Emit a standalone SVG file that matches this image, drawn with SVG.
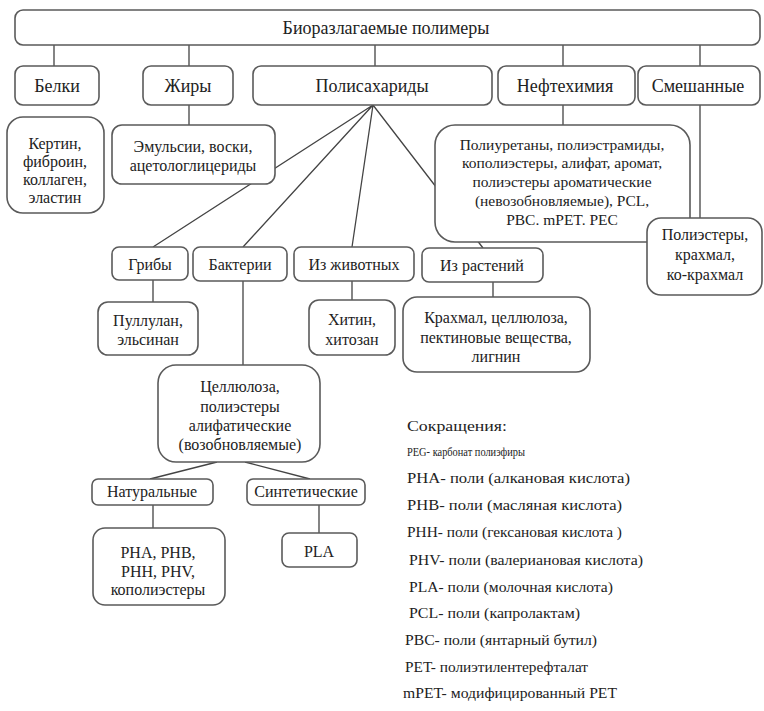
<svg xmlns="http://www.w3.org/2000/svg" width="764" height="711" viewBox="0 0 764 711" font-family="Liberation Serif, Times New Roman, serif">
<style>
.b{fill:#fff;stroke:#5a5a5a;stroke-width:1.6}
.t{fill:#222;text-anchor:middle;font-size:16px}
.h{font-size:18px}
.s{font-size:15.5px}
.c{stroke:#444;stroke-width:1.3;fill:none}
.l{fill:#222;font-size:14px}
</style>
<rect width="764" height="711" fill="#fff"/>
<g id="connectors">
<path class="c" d="M54 45V66M189 45V66M375 45V66M563 45V66M700 45V66"/>
<path class="c" d="M189 105V125M563 105V125M700 105V218"/>
<path class="c" d="M373 105L153 247M373 105L243 247M373 105L352 247M373 105L483 248"/>
<path class="c" d="M153 280V302M352 281V300M493 282V297M243 281V365"/>
<path class="c" d="M217 462L150 479M245 462L310 479M153 505V528M319 505V533"/>
</g>
<g id="root"><rect class="b" x="15" y="10" width="745" height="35" rx="8"/><text class="t h" x="386" y="34">Биоразлагаемые полимеры</text></g>
<g id="belki"><rect class="b" x="15" y="66" width="84" height="39" rx="8"/><text class="t h" x="57" y="92">Белки</text></g>
<g id="zhiry"><rect class="b" x="143" y="66" width="90" height="39" rx="8"/><text class="t h" x="188" y="92">Жиры</text></g>
<g id="polisah"><rect class="b" x="253" y="66" width="239" height="39" rx="8"/><text class="t h" x="372" y="92">Полисахариды</text></g>
<g id="neft"><rect class="b" x="498" y="66" width="137" height="39" rx="8"/><text class="t h" x="565" y="92">Нефтехимия</text></g>
<g id="smesh"><rect class="b" x="638" y="66" width="122" height="39" rx="8"/><text class="t h" x="698" y="92">Смешанные</text></g>
<g id="kertin"><rect class="b" x="7" y="117" width="97" height="96" rx="16"/><text class="t" x="55" y="149">Кертин,</text><text class="t" x="55" y="167">фиброин,</text><text class="t" x="55" y="185">коллаген,</text><text class="t" x="55" y="203">эластин</text></g>
<g id="emuls"><rect class="b" x="112" y="125" width="163" height="59" rx="10"/><text class="t" x="193" y="152">Эмульсии, воски,</text><text class="t" x="193" y="171">ацетологлицериды</text></g>
<g id="poliur"><rect class="b" x="435" y="125" width="255" height="117" rx="20"/>
<text class="t s" x="562" y="150">Полиуретаны, полиэстрамиды,</text>
<text class="t s" x="562" y="168">кополиэстеры, алифат, аромат,</text>
<text class="t s" x="562" y="187">полиэстеры ароматические</text>
<text class="t s" x="562" y="206">(невозобновляемые), PCL,</text>
<text class="t s" x="562" y="225">PBC. mPET. PEC</text></g>
<g id="poliest"><rect class="b" x="647" y="218" width="115" height="77" rx="14"/><text class="t" x="705" y="240">Полиэстеры,</text><text class="t" x="705" y="260">крахмал,</text><text class="t" x="705" y="280">ко-крахмал</text></g>
<g id="griby"><rect class="b" x="112" y="247" width="76" height="33" rx="7"/><text class="t" x="150" y="270">Грибы</text></g>
<g id="bakt"><rect class="b" x="193" y="247" width="94" height="34" rx="7"/><text class="t" x="240" y="270">Бактерии</text></g>
<g id="zhiv"><rect class="b" x="294" y="247" width="120" height="34" rx="7"/><text class="t" x="354" y="270">Из животных</text></g>
<g id="rast"><rect class="b" x="422" y="248" width="121" height="34" rx="7"/><text class="t" x="482" y="271">Из растений</text></g>
<g id="pullulan"><rect class="b" x="98" y="302" width="100" height="53" rx="10"/><text class="t" x="148" y="326">Пуллулан,</text><text class="t" x="148" y="345">эльсинан</text></g>
<g id="hitin"><rect class="b" x="309" y="300" width="86" height="55" rx="10"/><text class="t" x="352" y="325">Хитин,</text><text class="t" x="352" y="345">хитозан</text></g>
<g id="krahmal"><rect class="b" x="403" y="297" width="187" height="75" rx="14"/><text class="t" x="496" y="323">Крахмал, целлюлоза,</text><text class="t" x="496" y="343">пектиновые вещества,</text><text class="t" x="496" y="362">лигнин</text></g>
<g id="cell"><rect class="b" x="158" y="365" width="162" height="97" rx="18"/><text class="t" x="240" y="392">Целлюлоза,</text><text class="t" x="240" y="412">полиэстеры</text><text class="t" x="240" y="431">алифатические</text><text class="t" x="240" y="450">(возобновляемые)</text></g>
<g id="nat"><rect class="b" x="92" y="479" width="121" height="26" rx="6"/><text class="t" x="152" y="497">Натуральные</text></g>
<g id="sint"><rect class="b" x="247" y="479" width="118" height="26" rx="6"/><text class="t" x="306" y="497">Синтетические</text></g>
<g id="pha"><rect class="b" x="93" y="528" width="132" height="77" rx="12"/><text class="t" x="158" y="558">PHA, PHB,</text><text class="t" x="158" y="577">PHH, PHV,</text><text class="t" x="158" y="595">кополиэстеры</text></g>
<g id="pla"><rect class="b" x="282" y="533" width="75" height="34" rx="7"/><text class="t" x="319" y="557">PLA</text></g>
<g id="legend">
<text class="l" x="407" y="431" textLength="100" lengthAdjust="spacingAndGlyphs">Сокращения:</text>
<text class="l" x="407" y="456" style="font-size:13px" textLength="118" lengthAdjust="spacingAndGlyphs">PEG- карбонат полиэфиры</text>
<text class="l" x="407" y="483" textLength="223" lengthAdjust="spacingAndGlyphs">PHA- поли (алкановая кислота)</text>
<text class="l" x="407" y="510" textLength="215" lengthAdjust="spacingAndGlyphs">PHB- поли (масляная кислота)</text>
<text class="l" x="407" y="537" textLength="215" lengthAdjust="spacingAndGlyphs">PHH- поли (гексановая кислота )</text>
<text class="l" x="409" y="565" textLength="234" lengthAdjust="spacingAndGlyphs">PHV- поли (валериановая кислота)</text>
<text class="l" x="409" y="592" textLength="204" lengthAdjust="spacingAndGlyphs">PLA- поли (молочная кислота)</text>
<text class="l" x="409" y="618" textLength="171" lengthAdjust="spacingAndGlyphs">PCL- поли (капролактам)</text>
<text class="l" x="405" y="645" textLength="192" lengthAdjust="spacingAndGlyphs">PBC- поли (янтарный бутил)</text>
<text class="l" x="405" y="672" textLength="183" lengthAdjust="spacingAndGlyphs">PET- полиэтилентерефталат</text>
<text class="l" x="403" y="698" textLength="214" lengthAdjust="spacingAndGlyphs">mPET- модифицированный PET</text>
</g>
</svg>
